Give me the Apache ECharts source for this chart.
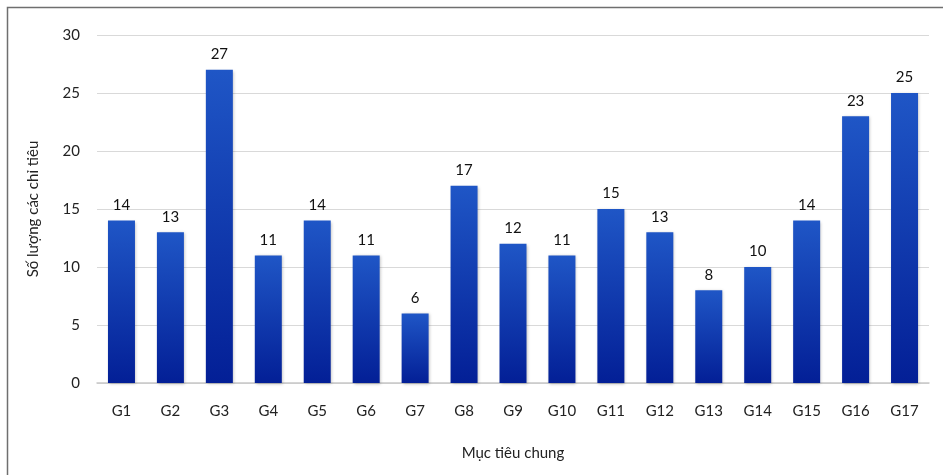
<!DOCTYPE html>
<html>
<head>
<meta charset="utf-8">
<script src="https://cdn.jsdelivr.net/npm/echarts@6/dist/echarts.min.js"></script>
<style>
  html, body { margin: 0; padding: 0; background: #fff; }
  #chart { width: 943px; height: 475px; }
</style>
</head>
<body>
<div id="chart"></div>
<script>
// Number of targets per general goal
const categories = ['G1','G2','G3','G4','G5','G6','G7','G8','G9','G10','G11','G12','G13','G14','G15','G16','G17'];
const targetCounts = [14, 13, 27, 11, 14, 11, 6, 17, 12, 11, 15, 13, 8, 10, 14, 23, 25];
const yTicks = [0, 5, 10, 15, 20, 25, 30];

const FONT = 'Lato, "Noto Sans", sans-serif';
const chart = echarts.init(document.getElementById('chart'));

chart.setOption({
  animation: false,
  backgroundColor: '#fff',
  graphic: [{
    type: 'rect',
    shape: { x: 7.5, y: 7.5, width: 1000, height: 1000 },
    style: { fill: 'none', stroke: '#6f6f6f', lineWidth: 1.5 },
    silent: true
  }],
  grid: { left: 97, right: 14, top: 35, bottom: 92 },
  xAxis: {
    type: 'category',
    data: categories,
    name: 'Mục tiêu chung',
    nameLocation: 'middle',
    nameGap: 63,
    nameTextStyle: { fontFamily: FONT, fontSize: 15, color: '#222' },
    axisLine: { lineStyle: { color: '#c8c8c8', width: 1.5 } },
    axisTick: { show: false },
    axisLabel: { fontFamily: FONT, fontSize: 15, color: '#222', margin: 21 }
  },
  yAxis: {
    type: 'value',
    min: yTicks[0],
    max: yTicks[yTicks.length - 1],
    interval: 5,
    name: 'Số lượng các chỉ tiêu',
    nameLocation: 'middle',
    nameGap: 56,
    nameRotate: 90,
    nameTextStyle: { fontFamily: FONT, fontSize: 15, color: '#222' },
    axisLine: { show: false },
    axisTick: { show: false },
    axisLabel: { fontFamily: FONT, fontSize: 15, color: '#222', margin: 17 },
    splitLine: { lineStyle: { color: '#d9d9d9', width: 1.2 } }
  },
  series: [{
    type: 'bar',
    data: targetCounts,
    barWidth: 27,
    itemStyle: {
      color: new echarts.graphic.LinearGradient(0, 0, 0, 1, [
        { offset: 0, color: '#1f56c6' },
        { offset: 1, color: '#031f96' }
      ]),
      shadowColor: 'rgba(0,0,0,0.25)',
      shadowBlur: 3,
      shadowOffsetX: 1,
      shadowOffsetY: 1
    },
    label: {
      show: true,
      position: 'top',
      distance: 8,
      fontFamily: FONT,
      fontSize: 15,
      color: '#111'
    }
  }]
});
</script>
</body>
</html>
